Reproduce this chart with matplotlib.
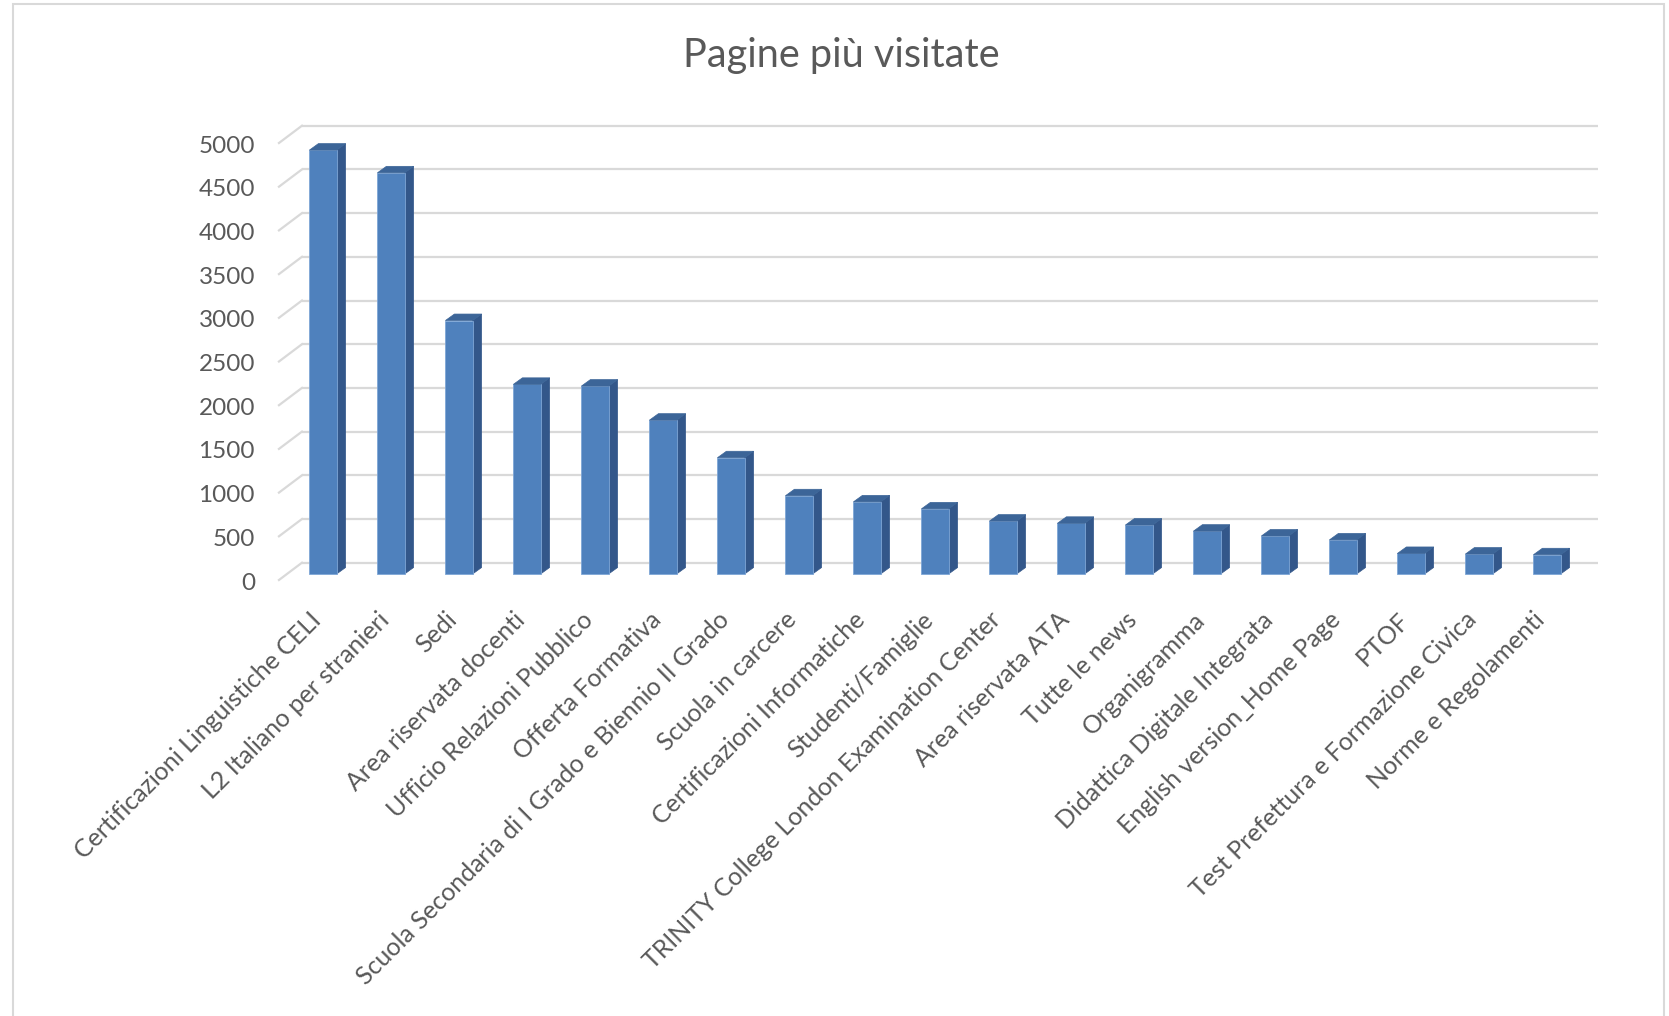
import matplotlib
matplotlib.use("Agg")
import matplotlib.pyplot as plt
from matplotlib.patches import Polygon, Rectangle
from matplotlib.transforms import offset_copy

# ---------------- data ----------------
categories = [
    "Certificazioni Linguistiche CELI",
    "L2 Italiano per stranieri",
    "Sedi",
    "Area riservata docenti",
    "Ufficio Relazioni Pubblico",
    "Offerta Formativa",
    "Scuola Secondaria di I Grado e Biennio II Grado",
    "Scuola in carcere",
    "Certificazioni Informatiche",
    "Studenti/Famiglie",
    "TRINITY College London Examination Center",
    "Area riservata ATA",
    "Tutte le news",
    "Organigramma",
    "Didattica Digitale Integrata",
    "English version_Home Page",
    "PTOF",
    "Test Prefettura e Formazione Civica",
    "Norme e Regolamenti",
]
visits = [4850, 4590, 2900, 2170, 2150, 1760, 1330, 895, 825, 745,
          605, 580, 560, 490, 435, 390, 235, 228, 220]
y_ticks = [0, 500, 1000, 1500, 2000, 2500, 3000, 3500, 4000, 4500, 5000]
title = "Pagine più visitate"

# ---------------- style ----------------
FONT = ["Lato", "DejaVu Sans"]
TXT = "#595959"
GRID = "#d9d9d9"
FRONT = "#4f81bd"
SIDE = "#33578a"
TOP = "#3c6598"

W, H, DPI = 1669, 1016, 100
fig = plt.figure(figsize=(W / DPI, H / DPI), dpi=DPI)
ax = fig.add_axes([0, 0, 1, 1])
ax.set_axis_off()

# pixel layout of the bar plane
x0_px, step_px = 323.0, 68.0     # first bar centre, spacing
base_px, ppu = 442.0, 0.0874     # y=0 from bottom, pixels per unit
ax.set_xlim(-x0_px / step_px, (W - x0_px) / step_px)
ax.set_ylim(-base_px / ppu, (H - base_px) / ppu)

def dx(px):
    return px / step_px

def dy(px):
    return px / ppu

xl, xr = -0.53, len(categories) - 1 + 0.53
back = (15, 11.3)      # back wall offset from bar plane (px)
front = (-8, -6)       # front plane offset from bar plane (px)
depth = (9, 6.5)       # bar depth (px)

# back-wall gridlines and side-wall diagonals
for g in y_ticks:
    ax.plot([xl + dx(back[0]), xr + dx(back[0])], [g + dy(back[1])] * 2,
            color=GRID, lw=1.6, zorder=1, solid_capstyle="butt")
    ax.plot([xl + dx(front[0]), xl + dx(back[0])],
            [g + dy(front[1]), g + dy(back[1])],
            color=GRID, lw=1.6, zorder=1)

# bars
w = 0.4
xs = list(range(len(categories)))
ax.bar(xs, visits, width=w, color=FRONT, edgecolor="#7ea6d6", linewidth=0.6, zorder=3)
for x, v in zip(xs, visits):
    side = [(x + w / 2, 0), (x + w / 2 + dx(depth[0]), dy(depth[1])),
            (x + w / 2 + dx(depth[0]), v + dy(depth[1])), (x + w / 2, v)]
    top = [(x - w / 2, v), (x + w / 2, v),
           (x + w / 2 + dx(depth[0]), v + dy(depth[1])),
           (x - w / 2 + dx(depth[0]), v + dy(depth[1]))]
    ax.add_patch(Polygon(side, closed=True, facecolor=SIDE, edgecolor=SIDE, lw=0.5, zorder=2))
    ax.add_patch(Polygon(top, closed=True, facecolor=TOP, edgecolor=TOP, lw=0.5, zorder=4))

# y tick labels (front plane)
ytr = offset_copy(ax.transData, fig=fig, x=front[0] - 24, y=front[1] - 3, units="dots")
for g in y_ticks:
    ax.text(xl, g, f"{g}", transform=ytr, ha="right", va="center",
            fontsize=17.5, color=TXT, family=FONT)

# category labels
xtr = offset_copy(ax.transData, fig=fig, x=-14, y=0, units="dots")
lab_y = -(608 - 574) / ppu
for x, c in zip(xs, categories):
    ax.text(x, lab_y, c, transform=xtr, rotation=45, rotation_mode="anchor",
            ha="right", va="top", fontsize=18, color=TXT, family=FONT)

# title
fig.text(841 / W, 1 - 55 / H, title, ha="center", va="center",
         fontsize=28.5, color=TXT, family=FONT)

# chart border
fig.patches.append(Rectangle((13 / W, -0.02), (1664 - 13) / W, 1.02 - 4 / H,
                             transform=fig.transFigure, fill=False,
                             edgecolor=GRID, lw=1.5))

fig.savefig("out.png", dpi=DPI, facecolor="white")
